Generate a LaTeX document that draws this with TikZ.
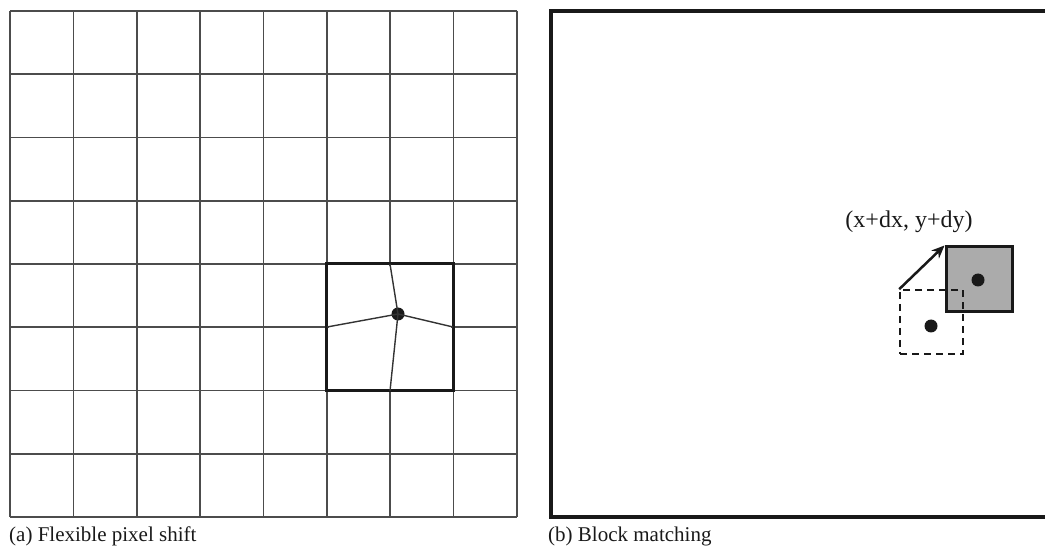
\documentclass[tikz,border=0pt]{standalone}
\usepackage{fontspec}
\setmainfont{Liberation Serif}
\usetikzlibrary{arrows.meta}
\begin{document}
\begin{tikzpicture}[x=1pt,y=-1pt,
  gridline/.style={draw=black!70,line width=1.6pt},
  boldbox/.style={draw=black!90,line width=3pt},
  bentline/.style={draw=black!80,line width=1.4pt},
  dotnode/.style={circle,fill=black!90,inner sep=0pt,minimum size=13pt},
  frame/.style={draw=black!90,line width=4pt},
  block/.style={draw=black!90,fill=black!33,line width=3pt},
  dashblock/.style={draw=black!90,dashed,dash pattern=on 7pt off 5pt,line width=1.6pt},
  caption/.style={font=\fontsize{21}{24}\selectfont,text=black!90,inner sep=0pt,anchor=base west},
  lbl/.style={font=\fontsize{24}{27}\selectfont,text=black!90,inner sep=0pt,anchor=base}]
\useasboundingbox (0,0) rectangle (1045,548);
\clip (0,0) rectangle (1045,548);
% (a) grid
\foreach \i in {0,...,8} {
  \draw[gridline] ({10+\i*63.375},11) -- ({10+\i*63.375},517);
  \draw[gridline] (10,{11+\i*63.25}) -- (517,{11+\i*63.25});
}
\fill[white] (329,266) rectangle (451,389);
\node[draw=none,inner sep=0pt,minimum width=126.7pt,minimum height=126.5pt,boldbox] (box) at (390.3,327.25) {};
\coordinate (bt) at (390,264);
\coordinate (bb) at (390,391);
\coordinate (bl) at (327,327);
\coordinate (br) at (453,327);
\node[dotnode] (p) at (398,314) {};
\draw[bentline] (bt) -- (p.center);
\draw[bentline] (bb) -- (p.center);
\draw[bentline] (bl) -- (p.center);
\draw[bentline] (br) -- (p.center);
\node[caption] (capa) at (9,541) {(a) Flexible pixel shift};
% (b) block matching
\draw[frame] (551,11) rectangle (1060,517);
\node[block,inner sep=0pt,minimum width=66pt,minimum height=65pt] (new) at (979,279.5) {};
\node[dashblock,inner sep=0pt,minimum width=63pt,minimum height=64pt] (old) at (931.5,322) {};
\node[dotnode] (d1) at (931,326) {};
\node[dotnode] (d2) at (978,280) {};
\draw[line width=2.5pt,black!90,-{Stealth[length=13pt,width=11pt]}] (old.north west) -- (new.north west);
\node[lbl] (l) at (909,228) {(x+dx, y+dy)};
\node[caption] (capb) at (548,541) {(b) Block matching};
\end{tikzpicture}
\end{document}
